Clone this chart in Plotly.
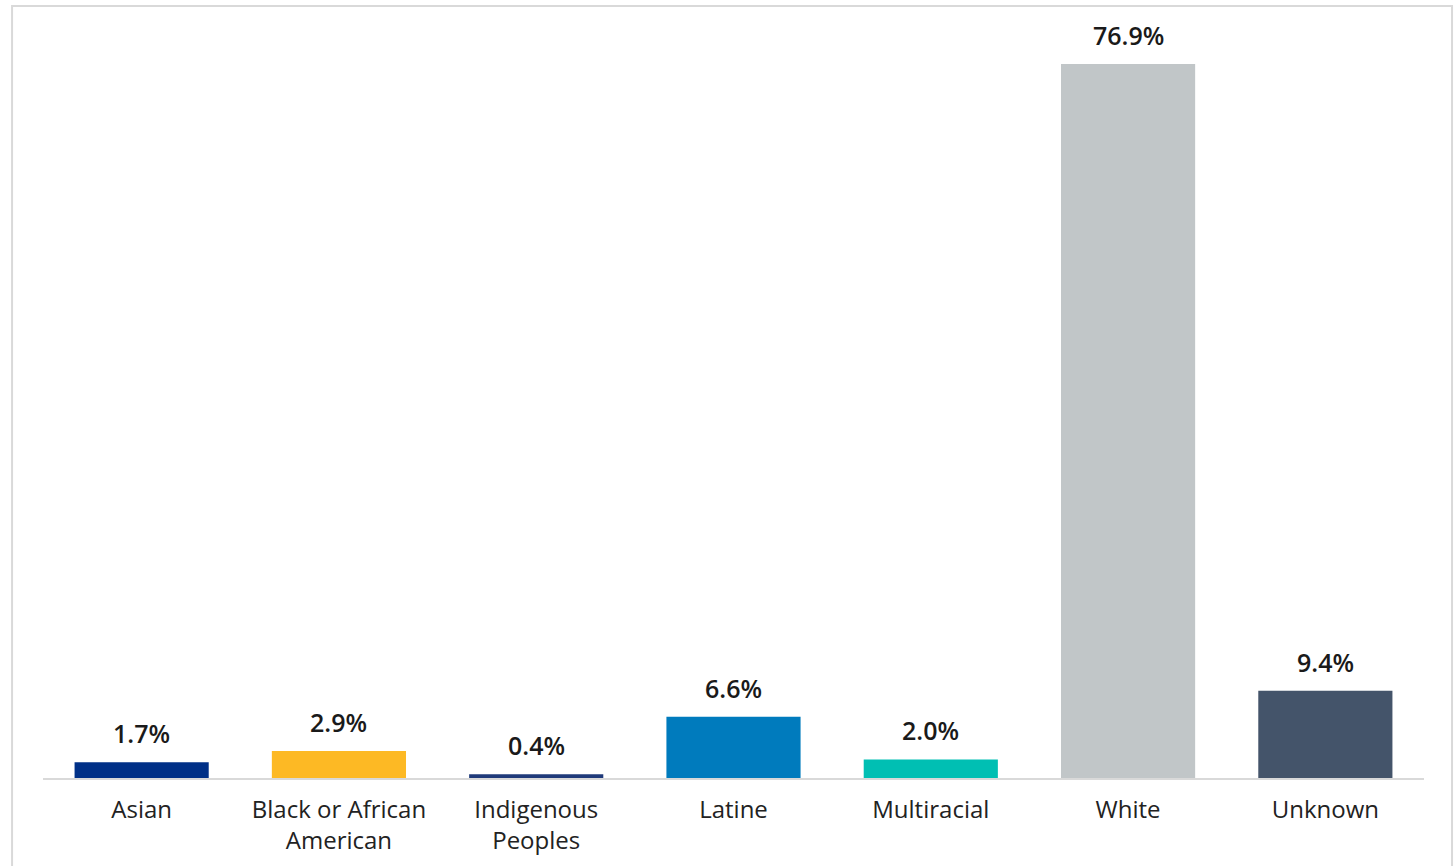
import plotly.graph_objects as go

categories = ["Asian", "Black or African American", "Indigenous Peoples", "Latine",
              "Multiracial", "White", "Unknown"]
tick_labels = ["Asian", "Black or African<br>American", "Indigenous<br>Peoples", "Latine",
               "Multiracial", "White", "Unknown"]
values = [1.7, 2.9, 0.4, 6.6, 2.0, 76.9, 9.4]
colors = ["#003087", "#FDB924", "#1F3A7A", "#007BBD", "#00BFB3", "#C1C6C8", "#44546A"]

fig = go.Figure()
fig.add_trace(go.Bar(
    x=categories, y=values, marker=dict(color=colors, line=dict(width=0)),
    width=0.68, hoverinfo="skip", showlegend=False,
))

for c, v in zip(categories, values):
    fig.add_annotation(x=c, y=v, text=f"{v:.1f}%", showarrow=False,
                       yanchor="bottom", yshift=10,
                       font=dict(family="Open Sans", size=25, color="#1a1a1a", weight=600))

fig.add_shape(type="rect", xref="paper", yref="paper",
              x0=-0.0224, x1=1.0203, y0=-0.3, y1=1.032,
              line=dict(color="#D9D9D9", width=2), fillcolor="rgba(0,0,0,0)", layer="below")

fig.update_layout(
    width=1455, height=866,
    margin=dict(l=43, r=31, t=30, b=88, autoexpand=False),
    paper_bgcolor="white", plot_bgcolor="white",
    font=dict(family="Open Sans", size=24, color="#222222"),
    bargap=0.32,
    xaxis=dict(tickmode="array", tickvals=categories, ticktext=tick_labels,
               showline=True, linecolor="#D9D9D9", linewidth=2,
               ticks="outside", ticklen=9, tickcolor="rgba(0,0,0,0)",
               showgrid=False, zeroline=False, fixedrange=True, automargin=False),
    yaxis=dict(range=[0, 80.56], visible=False, showgrid=False, zeroline=False,
               fixedrange=True, automargin=False),
)

fig.write_html("out.html")
